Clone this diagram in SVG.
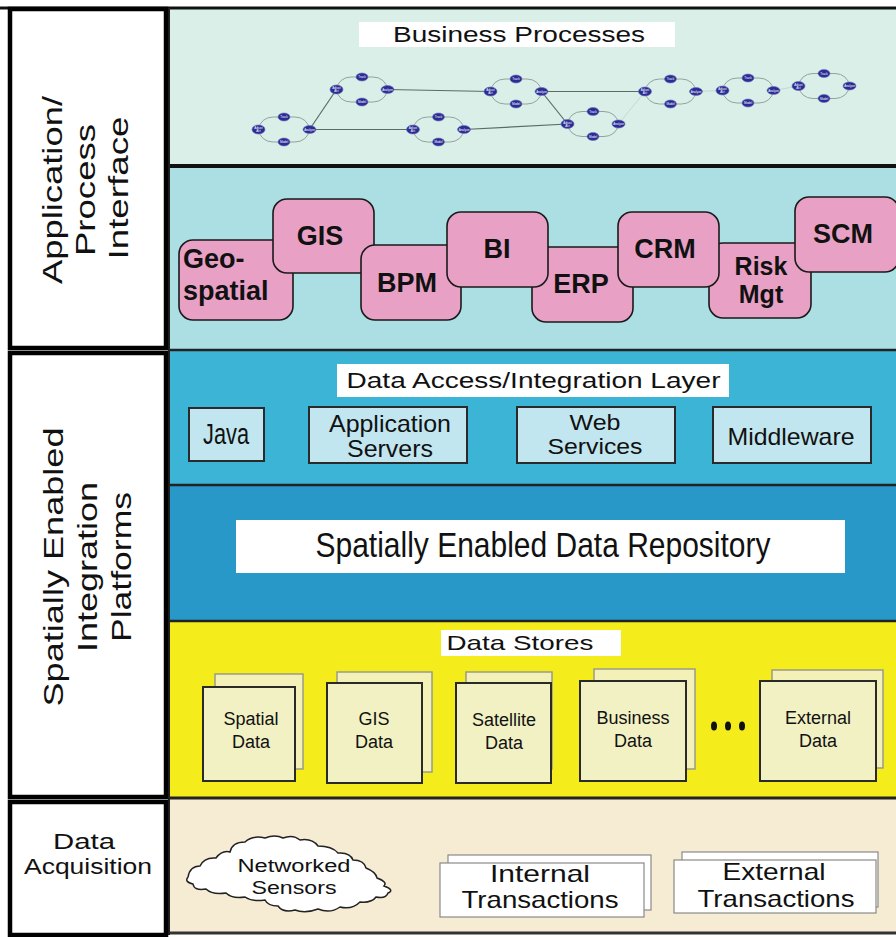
<svg xmlns="http://www.w3.org/2000/svg" width="896" height="937" viewBox="0 0 896 937">
<style>
text{font-family:"Liberation Sans",Arial,sans-serif;fill:#111}
.side{font-size:28px;text-anchor:middle}
.hdr{font-size:22px;text-anchor:middle}
.app rect{fill:#e8a1c5;stroke:#1a1a1a;stroke-width:1.6}
.app text{font-size:27px;font-weight:bold;text-anchor:middle}
.svc rect{fill:#c1e6ef;stroke:#2a2a2a;stroke-width:2}
.svc text{font-size:24px;text-anchor:middle}
.doc .back{fill:#f3f1b8;stroke:#9a9a88;stroke-width:1.5}
.doc .front{fill:#f2f1c4;stroke:#2a2a2a;stroke-width:2}
.doc text{font-size:18px;text-anchor:middle}
.sheet rect{fill:#fff;stroke:#8a8a8a;stroke-width:1.2}
.sheet text{font-size:24px;text-anchor:middle}
.loop{fill:none;stroke:#93a39c;stroke-width:1}
.pn{fill:#2c2d94;stroke:#6a70c0;stroke-width:0.6}
.pt{font-size:3px;fill:#fff;text-anchor:middle}
.dk{stroke:#5b6b66;stroke-width:1.2;fill:none}
.lt{stroke:#c3d9d1;stroke-width:1;fill:none}
</style>
<defs>
<g id="cl">
<rect class="loop" x="-25" y="-12.5" width="50" height="25" rx="14" ry="12"/>
</g>
</defs>
<rect x="0" y="0" width="896" height="937" fill="#ffffff"/>

<!-- bands -->
<g id="bands">
<rect x="168" y="9" width="728" height="157" fill="#d9efe7"/>
<rect x="168" y="166" width="728" height="184" fill="#abdfe3"/>
<rect x="168" y="350" width="728" height="135" fill="#3cb4d5"/>
<rect x="168" y="485" width="728" height="136" fill="#2798c8"/>
<rect x="168" y="621" width="728" height="176" fill="#f5ec1c"/>
<rect x="168" y="799" width="728" height="134" fill="#f6ebd3"/>
<line x1="0" y1="8" x2="896" y2="8" stroke="#111" stroke-width="3"/>
<line x1="166" y1="166" x2="896" y2="166" stroke="#111" stroke-width="4"/>
<line x1="168" y1="350" x2="896" y2="350" stroke="#222" stroke-width="2.5"/>
<line x1="168" y1="485" x2="896" y2="485" stroke="#222" stroke-width="2.5"/>
<line x1="168" y1="621" x2="896" y2="621" stroke="#222" stroke-width="2.5"/>
<line x1="168" y1="798" x2="896" y2="798" stroke="#222" stroke-width="3"/>
<line x1="168" y1="933" x2="896" y2="933" stroke="#333" stroke-width="3"/>
<line x1="169" y1="8" x2="169" y2="935" stroke="#222" stroke-width="2"/>
</g>

<!-- left column -->
<g id="side-app">
<rect x="10" y="9" width="156" height="339" fill="#fff" stroke="#000" stroke-width="4.5"/>
<text class="side" transform="translate(62,190) rotate(-90)" textLength="188" lengthAdjust="spacingAndGlyphs">Application/</text>
<text class="side" transform="translate(95,190) rotate(-90)" textLength="132" lengthAdjust="spacingAndGlyphs">Process</text>
<text class="side" transform="translate(128,188) rotate(-90)" textLength="143" lengthAdjust="spacingAndGlyphs">Interface</text>
</g>
<g id="side-sei">
<rect x="10" y="353" width="156" height="444" fill="#fff" stroke="#000" stroke-width="4.5"/>
<text class="side" transform="translate(63,567) rotate(-90)" textLength="279" lengthAdjust="spacingAndGlyphs">Spatially Enabled</text>
<text class="side" transform="translate(97,567) rotate(-90)" textLength="170" lengthAdjust="spacingAndGlyphs">Integration</text>
<text class="side" transform="translate(131,567) rotate(-90)" textLength="150" lengthAdjust="spacingAndGlyphs">Platforms</text>
</g>
<g id="side-acq">
<rect x="10" y="802" width="156" height="133" fill="#fff" stroke="#000" stroke-width="4.5"/>
<text x="84" y="849" font-size="22" text-anchor="middle" textLength="62" lengthAdjust="spacingAndGlyphs">Data</text>
<text x="88" y="874" font-size="22" text-anchor="middle" textLength="128" lengthAdjust="spacingAndGlyphs">Acquisition</text>
</g>

<!-- business processes -->
<g id="bp-label">
<rect x="359" y="22" width="316" height="25" fill="#fff"/>
<text class="hdr" x="519" y="42" textLength="252" lengthAdjust="spacingAndGlyphs">Business Processes</text>
</g>

<g id="bp-connectors">
<line class="dk" x1="309.5" y1="129.5" x2="336.5" y2="89.5"/>
<line class="dk" x1="309.5" y1="129.5" x2="413" y2="129.5"/>
<line class="dk" x1="387.5" y1="89.5" x2="490.5" y2="91.5"/>
<line class="dk" x1="464" y1="129.5" x2="567.5" y2="124"/>
<line class="dk" x1="541.5" y1="91.5" x2="567.5" y2="124"/>
<line class="dk" x1="541.5" y1="91.5" x2="645" y2="91.5"/>
<line class="lt" x1="618.5" y1="124" x2="645" y2="91.5"/>
<line class="lt" x1="696" y1="91.5" x2="722.5" y2="90.5"/>
<line class="lt" x1="773.5" y1="90.5" x2="798.5" y2="86"/>
</g>

<g id="bp-a" transform="translate(284,129.5)">
<use href="#cl"/>
<ellipse class="pn" cx="0" cy="-12.5" rx="6" ry="4"/><text class="pt" x="0" y="-11.5">Track</text>
<ellipse class="pn" cx="0" cy="12.5" rx="6" ry="4"/><text class="pt" x="0" y="13.5">Model</text>
<ellipse class="pn" cx="-25.5" cy="0" rx="6.5" ry="4.5"/><text class="pt" x="-25.5" y="-0.5">Adjust</text><text class="pt" x="-25.5" y="2.5">Act</text>
<ellipse class="pn" cx="25.5" cy="0" rx="6.5" ry="4"/><text class="pt" x="25.5" y="1">Analyze</text>
</g>
<g id="bp-b" transform="translate(362,89.5)">
<use href="#cl"/>
<ellipse class="pn" cx="0" cy="-12.5" rx="6" ry="4"/><text class="pt" x="0" y="-11.5">Track</text>
<ellipse class="pn" cx="0" cy="12.5" rx="6" ry="4"/><text class="pt" x="0" y="13.5">Model</text>
<ellipse class="pn" cx="-25.5" cy="0" rx="6.5" ry="4.5"/><text class="pt" x="-25.5" y="-0.5">Adjust</text><text class="pt" x="-25.5" y="2.5">Act</text>
<ellipse class="pn" cx="25.5" cy="0" rx="6.5" ry="4"/><text class="pt" x="25.5" y="1">Analyze</text>
</g>
<g id="bp-c" transform="translate(438.5,129.5)">
<use href="#cl"/>
<ellipse class="pn" cx="0" cy="-12.5" rx="6" ry="4"/><text class="pt" x="0" y="-11.5">Track</text>
<ellipse class="pn" cx="0" cy="12.5" rx="6" ry="4"/><text class="pt" x="0" y="13.5">Model</text>
<ellipse class="pn" cx="-25.5" cy="0" rx="6.5" ry="4.5"/><text class="pt" x="-25.5" y="-0.5">Adjust</text><text class="pt" x="-25.5" y="2.5">Act</text>
<ellipse class="pn" cx="25.5" cy="0" rx="6.5" ry="4"/><text class="pt" x="25.5" y="1">Analyze</text>
</g>
<g id="bp-d" transform="translate(516,91.5)">
<use href="#cl"/>
<ellipse class="pn" cx="0" cy="-12.5" rx="6" ry="4"/><text class="pt" x="0" y="-11.5">Track</text>
<ellipse class="pn" cx="0" cy="12.5" rx="6" ry="4"/><text class="pt" x="0" y="13.5">Model</text>
<ellipse class="pn" cx="-25.5" cy="0" rx="6.5" ry="4.5"/><text class="pt" x="-25.5" y="-0.5">Adjust</text><text class="pt" x="-25.5" y="2.5">Act</text>
<ellipse class="pn" cx="25.5" cy="0" rx="6.5" ry="4"/><text class="pt" x="25.5" y="1">Analyze</text>
</g>
<g id="bp-e" transform="translate(593,124)">
<use href="#cl"/>
<ellipse class="pn" cx="0" cy="-12.5" rx="6" ry="4"/><text class="pt" x="0" y="-11.5">Track</text>
<ellipse class="pn" cx="0" cy="12.5" rx="6" ry="4"/><text class="pt" x="0" y="13.5">Model</text>
<ellipse class="pn" cx="-25.5" cy="0" rx="6.5" ry="4.5"/><text class="pt" x="-25.5" y="-0.5">Adjust</text><text class="pt" x="-25.5" y="2.5">Act</text>
<ellipse class="pn" cx="25.5" cy="0" rx="6.5" ry="4"/><text class="pt" x="25.5" y="1">Analyze</text>
</g>
<g id="bp-f" transform="translate(670.5,91.5)">
<use href="#cl"/>
<ellipse class="pn" cx="0" cy="-12.5" rx="6" ry="4"/><text class="pt" x="0" y="-11.5">Track</text>
<ellipse class="pn" cx="0" cy="12.5" rx="6" ry="4"/><text class="pt" x="0" y="13.5">Model</text>
<ellipse class="pn" cx="-25.5" cy="0" rx="6.5" ry="4.5"/><text class="pt" x="-25.5" y="-0.5">Adjust</text><text class="pt" x="-25.5" y="2.5">Act</text>
<ellipse class="pn" cx="25.5" cy="0" rx="6.5" ry="4"/><text class="pt" x="25.5" y="1">Analyze</text>
</g>
<g id="bp-g" transform="translate(748,90.5)">
<use href="#cl"/>
<ellipse class="pn" cx="0" cy="-12.5" rx="6" ry="4"/><text class="pt" x="0" y="-11.5">Track</text>
<ellipse class="pn" cx="0" cy="12.5" rx="6" ry="4"/><text class="pt" x="0" y="13.5">Model</text>
<ellipse class="pn" cx="-25.5" cy="0" rx="6.5" ry="4.5"/><text class="pt" x="-25.5" y="-0.5">Adjust</text><text class="pt" x="-25.5" y="2.5">Act</text>
<ellipse class="pn" cx="25.5" cy="0" rx="6.5" ry="4"/><text class="pt" x="25.5" y="1">Analyze</text>
</g>
<g id="bp-h" transform="translate(824,86)">
<use href="#cl"/>
<ellipse class="pn" cx="0" cy="-12.5" rx="6" ry="4"/><text class="pt" x="0" y="-11.5">Track</text>
<ellipse class="pn" cx="0" cy="12.5" rx="6" ry="4"/><text class="pt" x="0" y="13.5">Model</text>
<ellipse class="pn" cx="-25.5" cy="0" rx="6.5" ry="4.5"/><text class="pt" x="-25.5" y="-0.5">Adjust</text><text class="pt" x="-25.5" y="2.5">Act</text>
<ellipse class="pn" cx="25.5" cy="0" rx="6.5" ry="4"/><text class="pt" x="25.5" y="1">Analyze</text>
</g>

<!-- applications -->
<g id="app-geo" class="app"><rect x="179" y="240" width="114" height="80" rx="14"/><text x="183" y="268" style="text-anchor:start">Geo-</text><text x="183" y="300" style="text-anchor:start">spatial</text></g>
<g id="app-gis" class="app"><rect x="273" y="199" width="101" height="74" rx="14"/><text x="320" y="245">GIS</text></g>
<g id="app-bpm" class="app"><rect x="361" y="245" width="100" height="75" rx="14"/><text x="407" y="292">BPM</text></g>
<g id="app-erp" class="app"><rect x="532" y="247" width="101" height="75" rx="14"/><text x="581" y="293">ERP</text></g>
<g id="app-bi" class="app"><rect x="447" y="212" width="101" height="75" rx="14"/><text x="497" y="258">BI</text></g>
<g id="app-risk" class="app"><rect x="709" y="243" width="102" height="75" rx="14"/><text x="761" y="275" style="font-size:25px">Risk</text><text x="761" y="303" style="font-size:25px">Mgt</text></g>
<g id="app-crm" class="app"><rect x="618" y="212" width="101" height="75" rx="14"/><text x="665" y="258">CRM</text></g>
<g id="app-scm" class="app"><rect x="795" y="197" width="104" height="75" rx="14"/><text x="843" y="243">SCM</text></g>

<!-- data access -->
<g id="dal-label">
<rect x="337" y="364" width="392" height="33" fill="#fff"/>
<text class="hdr" x="533.5" y="388" textLength="374" lengthAdjust="spacingAndGlyphs">Data Access/Integration Layer</text>
</g>
<g id="svc-java" class="svc"><rect x="189" y="408" width="75" height="53"/><text x="226" y="444" style="font-size:30px" textLength="46" lengthAdjust="spacingAndGlyphs">Java</text></g>
<g id="svc-app" class="svc"><rect x="309" y="407" width="158" height="56"/><text x="390" y="432" textLength="122" lengthAdjust="spacingAndGlyphs">Application</text><text x="390" y="457" textLength="86" lengthAdjust="spacingAndGlyphs">Servers</text></g>
<g id="svc-web" class="svc"><rect x="517" y="407" width="158" height="56"/><text x="595" y="430" style="font-size:22px" textLength="51" lengthAdjust="spacingAndGlyphs">Web</text><text x="595" y="454" style="font-size:22px" textLength="95" lengthAdjust="spacingAndGlyphs">Services</text></g>
<g id="svc-mw" class="svc"><rect x="713" y="407" width="158" height="56"/><text x="791" y="445" textLength="127" lengthAdjust="spacingAndGlyphs">Middleware</text></g>

<!-- repository -->
<g id="repo">
<rect x="236" y="520" width="609" height="53" fill="#fff"/>
<text x="543" y="557" font-size="35" text-anchor="middle" textLength="455" lengthAdjust="spacingAndGlyphs">Spatially Enabled Data Repository</text>
</g>

<!-- data stores -->
<g id="ds-label">
<rect x="441" y="630" width="180" height="26" fill="#fff"/>
<text x="520" y="650" font-size="21" text-anchor="middle" textLength="147" lengthAdjust="spacingAndGlyphs">Data Stores</text>
</g>
<g id="ds-spatial" class="doc"><rect class="back" x="215" y="674" width="88" height="95"/><rect class="front" x="203" y="687" width="92" height="94"/><text x="251" y="725">Spatial</text><text x="251" y="748">Data</text></g>
<g id="ds-gis" class="doc"><rect class="back" x="337" y="672" width="95" height="100"/><rect class="front" x="327" y="683" width="95" height="100"/><text x="374" y="725">GIS</text><text x="374" y="748">Data</text></g>
<g id="ds-sat" class="doc"><rect class="back" x="466" y="672" width="86" height="97"/><rect class="front" x="456" y="683" width="95" height="100"/><text x="504" y="726">Satellite</text><text x="504" y="749">Data</text></g>
<g id="ds-bus" class="doc"><rect class="back" x="594" y="669" width="101" height="100"/><rect class="front" x="580" y="681" width="106" height="100"/><text x="633" y="724">Business</text><text x="633" y="747">Data</text></g>
<g id="ds-dots" fill="#111"><ellipse cx="714" cy="726" rx="3" ry="4.5"/><ellipse cx="728" cy="726" rx="3" ry="4.5"/><ellipse cx="742" cy="726" rx="3" ry="4.5"/></g>
<g id="ds-ext" class="doc"><rect class="back" x="772" y="670" width="111" height="98"/><rect class="front" x="760" y="681" width="116" height="100"/><text x="818" y="724">External</text><text x="818" y="747">Data</text></g>

<!-- acquisition -->
<g id="acq-sensors">
<path d="M188,877 Q190,866 200,866 Q204,857 216,858 Q222,850 230,852 Q232,842 245,842 Q252,835 265,838 Q275,834 283,838 Q293,834 300,840 Q312,838 318,846 Q332,846 338,853 Q350,852 353,860 Q364,860 366,868 Q376,872 377,878 Q388,882 384,886 Q395,890 388,893 Q386,899 376,897 Q372,903 360,902 Q352,910 340,907 Q330,914 318,909 Q305,914 295,910 Q283,913 278,906 Q268,906 265,900 Q252,902 245,897 Q232,899 226,893 Q212,895 206,889 Q194,891 193,884 Q184,882 188,877 Z" fill="#fff" stroke="#222" stroke-width="1.5"/>
<text x="294" y="872" font-size="18" text-anchor="middle" textLength="113" lengthAdjust="spacingAndGlyphs">Networked</text>
<text x="294" y="894" font-size="18" text-anchor="middle" textLength="85" lengthAdjust="spacingAndGlyphs">Sensors</text>
</g>
<g id="acq-internal" class="sheet">
<rect x="448" y="855" width="203" height="55"/>
<rect x="440" y="863" width="204" height="54"/>
<text x="540" y="882" textLength="100" lengthAdjust="spacingAndGlyphs">Internal</text>
<text x="540" y="908" textLength="157" lengthAdjust="spacingAndGlyphs">Transactions</text>
</g>
<g id="acq-external" class="sheet">
<rect x="682" y="852" width="196" height="55"/>
<rect x="674" y="860" width="202" height="53"/>
<text x="774" y="880" textLength="103" lengthAdjust="spacingAndGlyphs">External</text>
<text x="776" y="907" textLength="157" lengthAdjust="spacingAndGlyphs">Transactions</text>
</g>
</svg>
